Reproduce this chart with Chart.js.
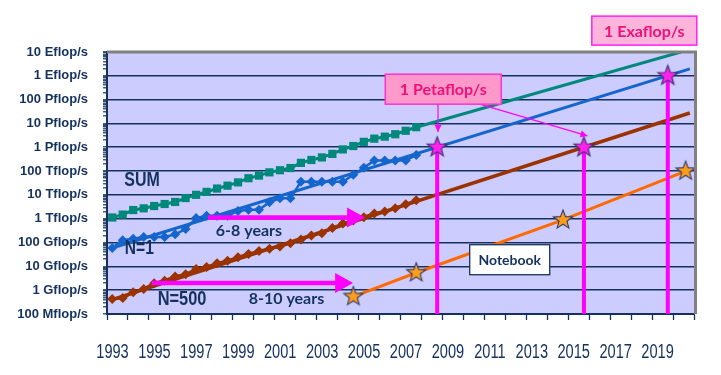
<!DOCTYPE html>
<html><head><meta charset="utf-8">
<script src="https://cdn.jsdelivr.net/npm/chart.js@4.4.1/dist/chart.umd.min.js"></script>
<style>html,body{margin:0;padding:0;background:#fff}</style>
</head><body>
<canvas id="c" width="721" height="375"></canvas>
<script>
// ---------- DATA ----------
const lists = ['Jun 1993','Nov 1993','Jun 1994','Nov 1994','Jun 1995','Nov 1995','Jun 1996','Nov 1996',
  'Jun 1997','Nov 1997','Jun 1998','Nov 1998','Jun 1999','Nov 1999','Jun 2000','Nov 2000',
  'Jun 2001','Nov 2001','Jun 2002','Nov 2002','Jun 2003','Nov 2003','Jun 2004','Nov 2004',
  'Jun 2005','Nov 2005','Jun 2006','Nov 2006','Jun 2007','Nov 2007'];
// flop/s
const sumValues = [1.128e12,1.493e12,2.317e12,2.732e12,3.414e12,4.151e12,5.07e12,7.38e12,
  1.01e13,1.34e13,1.85e13,2.44e13,3.36e13,5.03e13,6.46e13,8.85e13,
  1.086e14,1.344e14,2.22e14,2.93e14,3.75e14,5.28e14,8.13e14,1.127e15,
  1.69e15,2.30e15,2.79e15,3.53e15,4.92e15,6.97e15];
const n1Values = [5.97e10,1.245e11,1.434e11,1.704e11,1.704e11,1.704e11,2.204e11,3.682e11,
  1.068e12,1.338e12,1.338e12,1.338e12,2.121e12,2.379e12,2.379e12,4.938e12,
  7.226e12,7.226e12,3.586e13,3.586e13,3.586e13,3.586e13,3.586e13,7.072e13,
  1.368e14,2.806e14,2.806e14,2.806e14,2.806e14,4.782e14];
const n500Values = [4.22e8,4.72e8,8.22e8,1.114e9,1.962e9,2.489e9,3.73e9,4.62e9,
  7.67e9,9.51e9,1.339e10,1.712e10,2.417e10,3.308e10,4.382e10,5.51e10,
  6.778e10,9.43e10,1.343e11,1.958e11,2.451e11,4.034e11,6.24e11,8.506e11,
  1.166e12,1.646e12,2.026e12,2.737e12,4.005e12,5.929e12];
// extrapolated trends [year, flop/s]
const sumTrendYears = [2007.75, 2020.37];  const sumTrendValues = [6.97e15, 1e19];
const n1TrendYears  = [1993.25, 2020.8];   const n1TrendValues  = [5.9e10, 1.95e18];
const n500TrendYears= [1993.25, 2020.8];   const n500TrendValues= [4.0e8, 2.75e16];
// notebook
const notebookYears  = [2004.75, 2007.75, 2014.75, 2020.6];
const notebookValues = [5.4e8, 5.4e9, 8.9e11, 1.0e14];
// milestones (1 Petaflop/s, 1 Exaflop/s)
const milestoneYears  = [2008.75, 2015.75, 2019.75];
const milestoneValues = [1e15, 1e15, 1e18];
// tick labels
const yTickLabels = ['100 Mflop/s','1 Gflop/s','10 Gflop/s','100 Gflop/s','1 Tflop/s','10 Tflop/s',
  '100 Tflop/s','1 Pflop/s','10 Pflop/s','100 Pflop/s','1 Eflop/s','10 Eflop/s'];
const xTickLabels = ['1993','1995','1997','1999','2001','2003','2005','2007','2009','2011','2013','2015','2017','2019'];
// annotation texts (positions in data units)
const textNotes = [
  {text:'SUM', x:1994.67, y:4.1e13, font:'bold 20px "Liberation Sans", Arial, sans-serif', sx:0.8},
  {text:'N=1', x:1994.54, y:5.75e10, font:'bold 20px "Liberation Sans", Arial, sans-serif', sx:0.78},
  {text:'N=500', x:1996.58, y:3.9e8, font:'bold 20px "Liberation Sans", Arial, sans-serif', sx:0.82},
  {text:'6-8 years', x:1999.77, y:3.2e11, font:'bold 16px Lato, sans-serif', sx:1},
  {text:'8-10 years', x:2001.56, y:4.5e8, font:'bold 16px Lato, sans-serif', sx:1}
];
const arrows = [ {x0:1997.82, x1:2005.31, y:1.12e12}, {x0:1995.13, x1:2004.74, y:2.0e9} ];

// ---------- helpers ----------
const toPts = (xs, ys) => xs.map((x,i)=>({x, y:ys[i]}));
const listPos = s => { const [m,y] = s.split(' '); return +y + (m==='Jun' ? 0.25 : 0.75); };
const listX = lists.map(listPos);
function makeStar(fill, stroke, r){
  const s = Math.ceil(r*2+4), c = document.createElement('canvas');
  c.width = s; c.height = s;
  const g = c.getContext('2d');
  g.translate(s/2, s/2);
  g.beginPath();
  for (let i=0;i<10;i++){ const rad = i%2 ? r*0.42 : r; const a = -Math.PI/2 + i*Math.PI/5; g.lineTo(rad*Math.cos(a), rad*Math.sin(a)); }
  g.closePath(); g.fillStyle = fill; g.fill(); g.lineWidth = 1.1; g.strokeStyle = stroke; g.stroke();
  return c;
}
const orangeStar = makeStar('#FF9D1A', '#2F3B6B', 10);
const magentaStar = makeStar('#FF22EE', '#3A2F6B', 10.5);

const NAVY = '#14315F';
const MAG = '#FF00FF';

const datasets = [
  {label:'SUM', data: toPts(listX, sumValues), borderColor:'#00897B', backgroundColor:'#00897B', borderWidth:3,
   pointStyle:'rect', pointRadius:5.8, pointBorderWidth:0, order:10},
  {label:'SUM trend', data: toPts(sumTrendYears, sumTrendValues), borderColor:'#00897B', borderWidth:3, pointRadius:0, order:10},
  {label:'N=1', data: toPts(listX, n1Values), borderColor:'#1466CC', backgroundColor:'#1466CC', borderWidth:2.5,
   pointStyle:'rectRot', pointRadius:5, pointBorderWidth:0, order:10},
  {label:'N=1 trend', data: toPts(n1TrendYears, n1TrendValues), borderColor:'#1466CC', borderWidth:3, pointRadius:0, order:10},
  {label:'N=500', data: toPts(listX, n500Values), borderColor:'#9A3300', backgroundColor:'#9A3300', borderWidth:3,
   pointStyle:'rectRot', pointRadius:5, pointBorderWidth:0, order:10},
  {label:'N=500 trend', data: toPts(n500TrendYears, n500TrendValues), borderColor:'#9A3300', borderWidth:3.5, pointRadius:0, order:10},
  {label:'Notebook', data: toPts(notebookYears, notebookValues), borderColor:'#FF6A00', borderWidth:3, pointRadius:0, order:8},
];
milestoneYears.forEach((yr,i)=>{
  datasets.push({label:'milestone line', data:[{x:yr,y:milestoneValues[i]},{x:yr,y:1e8}], borderColor:MAG, borderWidth:4, pointRadius:0, order:6});
});
datasets.push({label:'Notebook stars', data: toPts(notebookYears, notebookValues), showLine:false, pointStyle:orangeStar, pointRadius:10, order:1});
datasets.push({label:'Milestones', data: toPts(milestoneYears, milestoneValues), showLine:false, pointStyle:magentaStar, pointRadius:10, order:1});

// ---------- plugins ----------
const bgPlugin = {
  id:'bg',
  beforeDraw(chart){
    const {ctx, chartArea:a} = chart;
    ctx.save(); ctx.fillStyle = '#CCCCFF'; ctx.fillRect(a.left, a.top, a.right-a.left, a.bottom-a.top); ctx.restore();
  }
};
function arrowHead(ctx, x, y, ang, len, half){
  ctx.beginPath();
  ctx.moveTo(x, y);
  ctx.lineTo(x - len*Math.cos(ang) + half*Math.sin(ang), y - len*Math.sin(ang) - half*Math.cos(ang));
  ctx.lineTo(x - len*Math.cos(ang) - half*Math.sin(ang), y - len*Math.sin(ang) + half*Math.cos(ang));
  ctx.closePath(); ctx.fill();
}
function scaledText(ctx, text, px, py, sx){
  ctx.save(); ctx.translate(px, py); ctx.scale(sx, 1); ctx.fillText(text, 0, 0); ctx.restore();
}
const overlayPlugin = {
  id:'overlay',
  afterDatasetsDraw(chart){
    const {ctx, chartArea:a, scales:{x, y}} = chart;
    ctx.save();
    // frame top/right
    ctx.strokeStyle = '#808080'; ctx.lineWidth = 3;
    ctx.beginPath(); ctx.moveTo(a.left, a.top); ctx.lineTo(a.right+1.5, a.top); ctx.lineTo(a.right+1.5, a.bottom); ctx.stroke();
    // big arrows
    ctx.strokeStyle = MAG; ctx.fillStyle = MAG; ctx.lineWidth = 4.5;
    arrows.forEach(ar=>{
      const px0 = x.getPixelForValue(ar.x0), px1 = x.getPixelForValue(ar.x1), py = y.getPixelForValue(ar.y);
      ctx.beginPath(); ctx.moveTo(px0, py); ctx.lineTo(px1-16, py); ctx.stroke();
      arrowHead(ctx, px1, py, 0, 18, 10);
    });
    // text notes
    ctx.fillStyle = NAVY; ctx.textAlign = 'center'; ctx.textBaseline = 'middle';
    textNotes.forEach(t=>{ ctx.font = t.font; scaledText(ctx, t.text, x.getPixelForValue(t.x), y.getPixelForValue(t.y), t.sx); });
    // x tick labels (condensed)
    ctx.font = '20px "Liberation Sans", Arial, sans-serif';
    xTickLabels.forEach(l=>{ scaledText(ctx, l, x.getPixelForValue(+l) + 5.5, a.bottom + 38, 0.73); });
    // Notebook box
    const nbx = x.getPixelForValue(2012.21), nby = y.getPixelForValue(1.9e10);
    ctx.fillStyle = '#FFFFFF'; ctx.fillRect(nbx-40, nby-15, 80, 30);
    ctx.strokeStyle = NAVY; ctx.lineWidth = 1.3; ctx.strokeRect(nbx-40, nby-15, 80, 30);
    ctx.fillStyle = NAVY; ctx.font = 'bold 14px Lato, sans-serif'; ctx.fillText('Notebook', nbx, nby+1);
    // Petaflop box + pointers
    const pbx = x.getPixelForValue(2009.04), pby = y.getPixelForValue(2.75e17);
    ctx.strokeStyle = MAG; ctx.fillStyle = MAG; ctx.lineWidth = 1.2;
    const p1 = [x.getPixelForValue(2008.79), y.getPixelForValue(6.8e16), x.getPixelForValue(2008.79), y.getPixelForValue(4.4e15)];
    const p2 = [x.getPixelForValue(2010.70), y.getPixelForValue(6.8e16), x.getPixelForValue(2015.92), y.getPixelForValue(3.0e15)];
    [p1,p2].forEach(p=>{
      ctx.beginPath(); ctx.moveTo(p[0],p[1]); ctx.lineTo(p[2],p[3]); ctx.stroke();
      arrowHead(ctx, p[2], p[3], Math.atan2(p[3]-p[1], p[2]-p[0]), 7, 3.5);
    });
    ctx.fillStyle = '#FF99CC'; ctx.fillRect(pbx-58, pby-15, 116, 30);
    ctx.strokeStyle = '#FF33CC'; ctx.lineWidth = 1.5; ctx.strokeRect(pbx-58, pby-15, 116, 30);
    ctx.fillStyle = '#EE1177'; ctx.font = 'bold 16px Lato, sans-serif'; ctx.fillText('1 Petaflop/s', pbx, pby+1);
    // Exaflop box
    const ebx = x.getPixelForValue(2018.63), eby = y.getPixelForValue(7.9e19);
    ctx.fillStyle = '#FFB4DC'; ctx.fillRect(ebx-52.5, eby-14.5, 105, 29);
    ctx.strokeStyle = '#FF22EE'; ctx.lineWidth = 1.5; ctx.strokeRect(ebx-52.5, eby-14.5, 105, 29);
    ctx.fillStyle = '#EE1177'; ctx.font = 'bold 16px Lato, sans-serif'; ctx.fillText('1 Exaflop/s', ebx, eby+1);
    ctx.restore();
  }
};

new Chart(document.getElementById('c'), {
  type:'line',
  data:{datasets},
  plugins:[bgPlugin, overlayPlugin],
  options:{
    responsive:false, animation:false, devicePixelRatio:1,
    layout:{padding:{left:0, right:27, top:52, bottom:0}},
    plugins:{legend:{display:false}, tooltip:{enabled:false}},
    elements:{line:{tension:0}},
    scales:{
      x:{
        type:'linear', min:1993, max:2021,
        afterBuildTicks(s){ const t=[]; for(let v=1993; v<=2021; v++) t.push({value:v}); s.ticks = t; },
        afterFit(s){ s.height = 61; },
        grid:{drawOnChartArea:false, drawTicks:true, tickLength:6, tickColor:NAVY, tickWidth:1.3},
        border:{color:NAVY, width:2},
        ticks:{autoSkip:false, maxRotation:0, minRotation:0, padding:18, color:NAVY,
          font:{size:10}, callback:() => ''}
      },
      y:{
        type:'logarithmic', min:1e8, max:1e19,
        afterBuildTicks(s){ const t=[]; for(let e=8;e<=19;e++){ t.push({value:Math.pow(10,e), major:true}); if(e<19) for(let m=2;m<=9;m++) t.push({value:m*Math.pow(10,e), major:false}); } s.ticks = t; },
        afterFit(s){ s.width = 107; },
        grid:{drawOnChartArea:true, color:c => (c.tick && c.tick.major) ? NAVY : 'rgba(0,0,0,0)', lineWidth:1.6,
          tickLength:4, tickColor:NAVY, tickWidth:1.2},
        border:{color:NAVY, width:2},
        ticks:{autoSkip:false, padding:15, color:NAVY,
          font:{family:'"Liberation Sans", Arial, sans-serif', size:13, weight:'bold'},
          callback:v => { const e = Math.log10(v); return Math.abs(e-Math.round(e))<1e-9 ? yTickLabels[Math.round(e)-8] : ''; }}
      }
    }
  }
});
</script>
</body></html>
